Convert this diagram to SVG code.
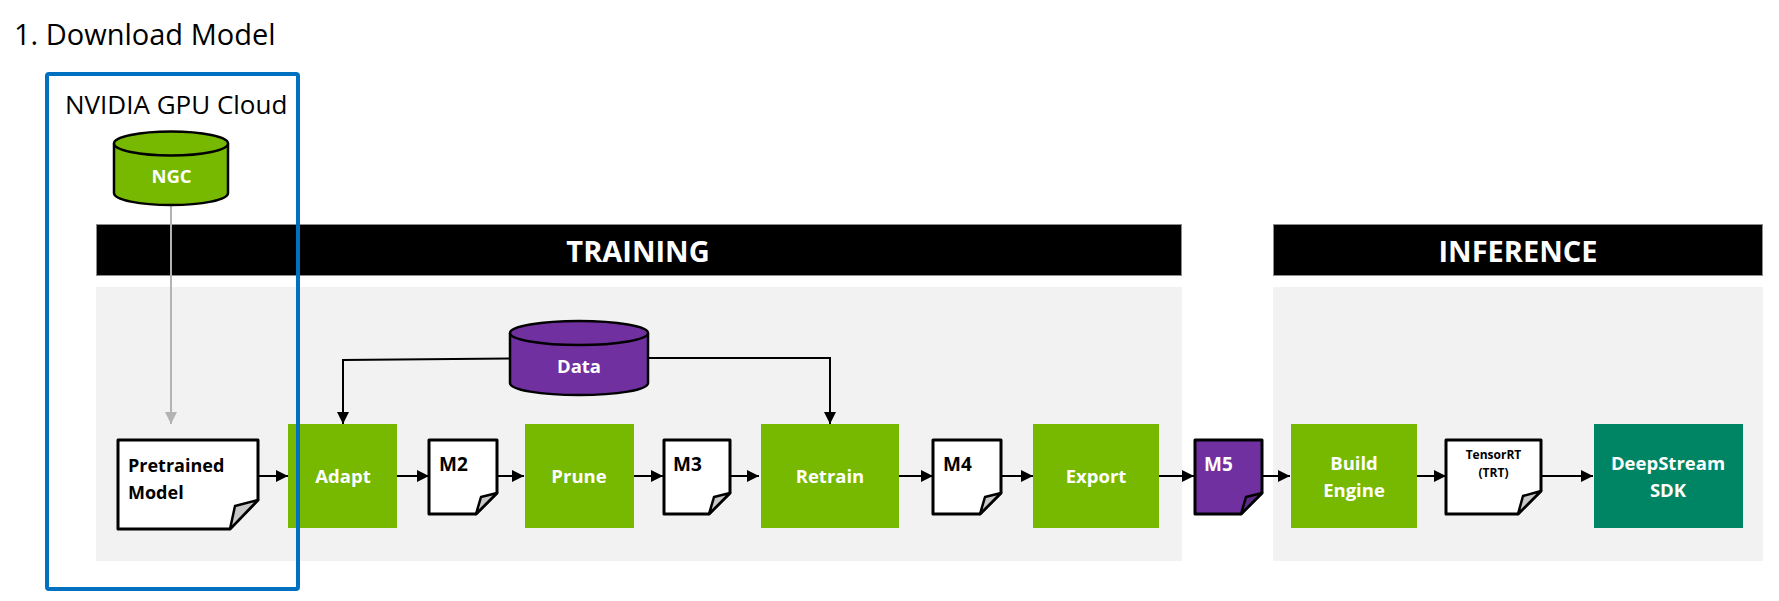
<svg xmlns="http://www.w3.org/2000/svg" width="1779" height="601" viewBox="0 0 1779 601">
<style>
text{font-family:"Open Sans","Noto Sans","Liberation Sans",sans-serif}
.t{fill:#000;font-size:29px}
.h{fill:#fff;font-size:29px;font-weight:700;text-anchor:middle}
.w{fill:#fff;font-size:18.5px;font-weight:700;text-anchor:middle}
.b{fill:#000;font-size:18px;font-weight:700}
.m{fill:#000;font-size:19px;font-weight:700}
.g{fill:#76b900}
.hd{fill:#000;stroke:#8c8c8c;stroke-width:1}
.doc{fill:#fff;stroke:#000;stroke-width:3;stroke-linejoin:round}
.fold{fill:#c8c8c8;stroke:#000;stroke-width:2.5;stroke-linejoin:round}
.cyl{stroke:#000;stroke-width:2.5}
.c{fill:none;stroke:#000;stroke-width:2}
</style>
<defs>
<marker id="a" markerUnits="userSpaceOnUse" markerWidth="12" markerHeight="12" refX="12" refY="6" orient="auto"><path d="M0 0L12 6L0 12z" fill="#000"/></marker>
<marker id="ag" markerUnits="userSpaceOnUse" markerWidth="12" markerHeight="12" refX="12" refY="6" orient="auto"><path d="M0 0L12 6L0 12z" fill="#b3b3b3"/></marker>
</defs>
<rect id="training-panel" x="96" y="287" width="1086" height="274" fill="#f2f2f2"/>
<rect id="inference-panel" x="1273" y="287" width="490" height="274" fill="#f2f2f2"/>
<g id="training-header"><rect class="hd" x="96.5" y="224.5" width="1085" height="51"/><text class="h" x="638" y="262">TRAINING</text></g>
<g id="inference-header"><rect class="hd" x="1273.5" y="224.5" width="489" height="51"/><text class="h" x="1518" y="262">INFERENCE</text></g>
<text id="title" class="t" x="14" y="45">1. Download Model</text>
<g id="connectors">
<path d="M171 205V424" fill="none" stroke="#b3b3b3" stroke-width="2" marker-end="url(#ag)"/>
<path class="c" d="M510 358.500L343 360V424" marker-end="url(#a)"/>
<path class="c" d="M649 358H830V424" marker-end="url(#a)"/>
<path class="c" d="M258 476H288" marker-end="url(#a)"/>
<path class="c" d="M397 476H429" marker-end="url(#a)"/>
<path class="c" d="M497 476H524" marker-end="url(#a)"/>
<path class="c" d="M634 476H663" marker-end="url(#a)"/>
<path class="c" d="M730 476H759" marker-end="url(#a)"/>
<path class="c" d="M899 476H933" marker-end="url(#a)"/>
<path class="c" d="M1001 476H1033" marker-end="url(#a)"/>
<path class="c" d="M1159 476H1194" marker-end="url(#a)"/>
<path class="c" d="M1262 476H1290" marker-end="url(#a)"/>
<path class="c" d="M1417 476H1446" marker-end="url(#a)"/>
<path class="c" d="M1541 476H1593" marker-end="url(#a)"/>
</g>
<g id="ngc"><path class="cyl g" d="M114 143.500V193C114 200 140 205 171 205S228 200 228 193V143.500"/><ellipse class="cyl g" cx="171" cy="143.500" rx="57" ry="12"/><text class="w" x="171.500" y="183">NGC</text></g>
<g id="data"><path class="cyl" fill="#7030a0" d="M510 333V383C510 390 541 395 579 395S648 390 648 383V333"/><ellipse class="cyl" fill="#7030a0" cx="579" cy="333" rx="69" ry="12"/><text class="w" x="579" y="372.500">Data</text></g>
<g id="pretrained"><path class="doc" d="M118 440H258V500L230 529H118z"/><path class="fold" d="M258 500L235 506L230 529z"/><text class="b" x="128" y="472">Pretrained<tspan x="128" y="499">Model</tspan></text></g>
<g id="adapt"><rect class="g" x="288" y="424" width="109" height="104"/><text class="w" x="343" y="483">Adapt</text></g>
<g id="m2"><path class="doc" d="M429 440H497V493L476 514H429z"/><path class="fold" d="M497 493L481 497L476 514z"/><text class="m" x="439" y="471">M2</text></g>
<g id="prune"><rect class="g" x="525" y="424" width="109" height="104"/><text class="w" x="579" y="483">Prune</text></g>
<g id="m3"><path class="doc" d="M664 440H730V493L709 514H664z"/><path class="fold" d="M730 493L714 497L709 514z"/><text class="m" x="673" y="471">M3</text></g>
<g id="retrain"><rect class="g" x="761" y="424" width="138" height="104"/><text class="w" x="830" y="483">Retrain</text></g>
<g id="m4"><path class="doc" d="M933 440H1001V493L980 514H933z"/><path class="fold" d="M1001 493L985 497L980 514z"/><text class="m" x="943" y="471">M4</text></g>
<g id="export"><rect class="g" x="1033" y="424" width="126" height="104"/><text class="w" x="1096" y="483">Export</text></g>
<g id="m5"><path class="doc" style="fill:#7030a0" d="M1195 440H1262V493L1241 514H1195z"/><path class="fold" style="fill:#5e2a8a" d="M1262 493L1246 497L1241 514z"/><text class="w" x="1218.500" y="471" style="font-size:19px">M5</text></g>
<g id="build"><rect class="g" x="1291" y="424" width="126" height="104"/><text class="w" x="1354" y="470">Build<tspan x="1354" y="497">Engine</tspan></text></g>
<g id="trt"><path class="doc" d="M1446 440H1541V491L1518 514H1446z"/><path class="fold" d="M1541 491L1523 496L1518 514z"/><text class="b" x="1493.500" y="459" text-anchor="middle" style="font-size:12px">TensorRT<tspan x="1493.500" y="477">(TRT)</tspan></text></g>
<g id="deepstream"><rect x="1594" y="424" width="149" height="104" fill="#008564"/><text class="w" x="1668" y="470">DeepStream<tspan x="1668" y="497">SDK</tspan></text></g>
<g id="ngc-cloud"><rect x="47" y="74" width="251" height="515" rx="2" fill="none" stroke="#0070c0" stroke-width="4"/><text class="t" x="65" y="114" style="font-size:26px">NVIDIA GPU Cloud</text></g>
</svg>
